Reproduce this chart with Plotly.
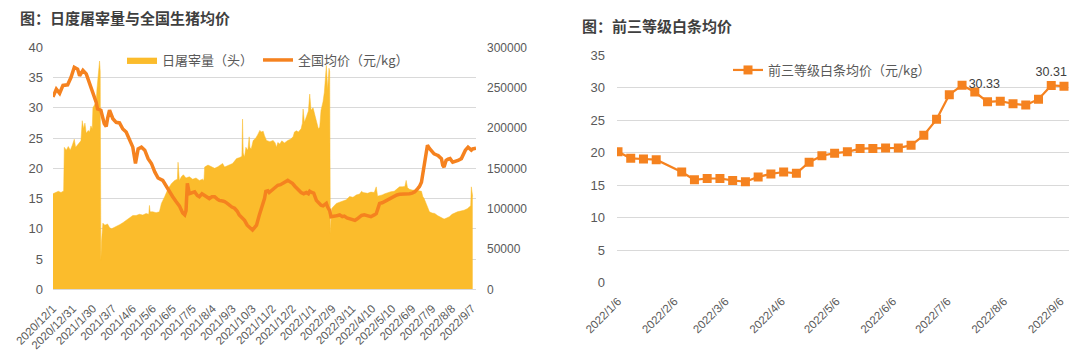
import plotly.graph_objects as go

# ---------------- Left chart data ----------------
# category-axis tick labels (one every 30 trading days)
tick_labels = ["2020/12/1", "2020/12/31", "2021/1/30", "2021/3/7", "2021/4/6", "2021/5/6",
               "2021/6/5", "2021/7/5", "2021/8/4", "2021/9/3", "2021/10/3", "2021/11/2",
               "2021/12/2", "2022/1/1", "2022/2/9", "2022/3/11", "2022/4/10", "2022/5/10",
               "2022/6/9", "2022/7/9", "2022/8/8", "2022/9/7"]
tick_step = 30

# daily slaughter (heads) : trading-day index and value
slaughter_idx = [0, 4, 8, 12, 16, 17, 20, 23, 26, 29, 32, 34, 38, 42, 44, 46, 48, 50, 53, 55, 57, 59,
                 60, 63, 65, 66, 68, 70, 71, 72, 73, 75, 78, 82, 85, 88, 92, 96, 100, 105, 110, 115,
                 120, 125, 130, 135, 140, 144, 145, 146, 150, 155, 160, 163, 166, 168, 173, 178, 183,
                 187, 188, 189, 190, 193, 196, 200, 205, 210, 215, 220, 225, 227, 228, 233, 238, 243,
                 248, 253, 255, 258, 265, 270, 273, 276, 281, 284, 285, 286, 288, 290, 293, 295, 296,
                 298, 301, 305, 308, 311, 313, 316, 318, 321, 326, 331, 334, 336, 338, 341, 344, 348,
                 353, 357, 361, 363, 366, 369, 373, 375, 376, 378, 381, 384, 386, 388, 391, 394, 397,
                 399, 401, 403, 406, 408, 411, 413, 415, 416, 417, 418, 419, 421, 424, 426, 431, 436,
                 441, 446, 451, 456, 461, 464, 466, 473, 478, 483, 486, 488, 491, 495, 499, 503, 508,
                 513, 518, 521, 525, 529, 531, 533, 536, 540, 545, 550, 554, 556, 558, 561, 564, 566,
                 570, 574, 578, 581, 584, 588, 592, 596, 600, 603, 608, 613, 618, 623, 626, 628, 629,
                 630, 631]
slaughter_val = [118500, 120000, 121500, 120000, 122000, 176000, 172500, 177000, 172500, 178500,
                 186000, 176000, 180000, 184000, 209000, 199000, 206000, 193500, 197000, 195000,
                 202500, 199000, 225000, 229000, 232500, 247500, 269000, 283000, 270000, 36000,
                 60000, 82000, 79500, 81000, 76500, 75000, 76500, 78000, 80000, 82500, 85500, 88500,
                 91500, 91500, 93000, 92000, 94000, 93000, 104000, 96000, 96000, 95000, 96000,
                 106500, 111000, 115000, 124500, 131000, 135000, 136500, 157500, 136500, 135000,
                 139500, 142000, 138000, 139500, 136500, 138000, 135000, 136500, 135000, 151500,
                 154000, 152000, 150000, 152000, 154500, 156000, 151500, 154000, 156000, 159000,
                 162000, 163500, 165000, 211000, 169000, 164000, 176000, 172500, 189000, 176000,
                 174000, 184500, 187500, 192000, 197000, 195000, 196000, 190500, 184500, 183000,
                 184500, 181500, 176000, 182000, 180000, 184000, 181500, 184500, 186000, 189000,
                 195000, 196500, 195000, 199000, 206000, 223500, 207000, 214000, 221000, 242000,
                 222000, 225000, 214000, 206000, 199000, 201000, 222000, 232500, 244500, 277500,
                 247500, 274000, 270000, 69000, 90000, 100000, 102000, 105000, 106500, 108000,
                 110000, 111000, 115000, 114000, 117000, 118000, 121500, 120000, 119000, 120500,
                 120000, 127000, 115500, 116000, 117000, 118500, 120000, 121000, 121500, 124500,
                 127000, 127000, 127500, 135000, 126000, 124000, 123000, 123000, 122000, 121500,
                 115000, 112500, 106500, 101000, 96000, 94500, 94000, 91500, 90000, 88500, 87000,
                 88500, 90000, 93000, 94500, 96000, 97000, 98000, 100000, 102000, 103500, 127000,
                 120000, 115000]

# national average live-hog price (yuan/kg)
price_idx = [0, 5, 10, 15, 22, 27, 32, 37, 40, 45, 50, 55, 60, 65, 67, 72, 77, 80, 82, 85, 90, 95,
             100, 105, 110, 115, 120, 124, 128, 133, 138, 143, 148, 153, 158, 165, 170, 175, 180,
             185, 190, 195, 198, 200, 202, 205, 210, 213, 217, 220, 224, 228, 232, 235, 239, 243,
             247, 250, 255, 258, 262, 265, 269, 273, 277, 280, 284, 288, 292, 295, 298, 300, 303,
             306, 310, 315, 318, 320, 323, 325, 328, 331, 335, 338, 342, 346, 350, 353, 356, 360,
             364, 368, 371, 373, 377, 381, 384, 386, 389, 392, 396, 400, 403, 406, 409, 411, 413,
             416, 418, 421, 424, 428, 431, 435, 438, 442, 446, 450, 454, 457, 461, 464, 468, 473,
             478, 483, 486, 489, 491, 495, 498, 502, 506, 510, 513, 517, 521, 525, 529, 533, 536,
             540, 544, 548, 551, 554, 556, 558, 561, 563, 566, 569, 573, 577, 579, 584, 586, 588,
             591, 594, 597, 601, 605, 609, 614, 617, 620, 624, 627, 629, 631, 634, 636]
price_val = [31.8, 33.1, 32.4, 33.7, 33.8, 35.0, 36.7, 36.4, 35.3, 36.2, 35.6, 34.0, 32.6, 30.9,
             29.8, 29.6, 27.4, 26.9, 28.2, 29.6, 28.2, 27.6, 27.5, 26.5, 26.0, 24.6, 23.5, 20.8,
             23.2, 23.5, 23.0, 21.6, 20.8, 19.4, 18.4, 18.0, 17.0, 16.0, 15.3, 14.5, 13.8, 12.6,
             12.3, 13.0, 17.5, 15.8, 16.0, 16.1, 15.5, 15.3, 15.8, 15.5, 15.2, 15.0, 15.3, 15.3,
             14.9, 14.7, 14.6, 14.5, 14.2, 13.9, 13.6, 13.4, 12.9, 12.3, 11.8, 11.4, 10.6, 10.3,
             9.9, 9.8, 10.2, 10.6, 12.2, 13.9, 15.0, 16.2, 16.3, 16.0, 16.3, 16.6, 16.9, 17.2,
             17.3, 17.5, 17.7, 18.0, 17.8, 17.5, 17.0, 16.6, 16.2, 16.0, 15.8, 16.0, 15.8, 16.2,
             16.0, 15.9, 14.7, 14.3, 13.9, 13.8, 14.0, 14.2, 13.6, 13.0, 12.0, 12.0, 12.1, 12.2,
             12.3, 12.0, 12.1, 11.8, 11.7, 11.5, 11.4, 11.6, 12.0, 12.2, 12.3, 12.2, 12.0, 12.3,
             12.5, 13.5, 14.2, 14.3, 14.5, 14.7, 15.0, 15.2, 15.5, 15.6, 15.7, 15.7, 15.7, 15.7,
             15.8, 15.9, 16.1, 16.6, 17.0, 17.7, 19.0, 20.2, 22.1, 23.8, 23.3, 22.9, 22.4, 22.2,
             22.1, 21.6, 20.5, 20.2, 21.3, 21.5, 21.6, 21.0, 21.1, 21.3, 21.6, 22.3, 23.0, 23.5,
             23.2, 23.0, 23.2, 23.2, 23.3]

# ---------------- Right chart data ----------------
carcass_dates = ["2022-01-06", "2022-01-13", "2022-01-20", "2022-01-27", "2022-02-10", "2022-02-17",
                 "2022-02-24", "2022-03-03", "2022-03-10", "2022-03-17", "2022-03-24", "2022-03-31",
                 "2022-04-07", "2022-04-14", "2022-04-21", "2022-04-28", "2022-05-05", "2022-05-12",
                 "2022-05-19", "2022-05-26", "2022-06-02", "2022-06-09", "2022-06-16", "2022-06-23",
                 "2022-06-30", "2022-07-07", "2022-07-14", "2022-07-21", "2022-07-28", "2022-08-04",
                 "2022-08-11", "2022-08-18", "2022-08-25", "2022-09-01", "2022-09-08"]
carcass_val = [20.1, 19.1, 19.0, 18.9, 17.0, 15.8, 16.0, 16.0, 15.7, 15.5, 16.25, 16.7, 17.0, 16.8,
               18.5, 19.5, 19.9, 20.1, 20.6, 20.6, 20.7, 20.7, 21.1, 22.65, 25.1, 28.9, 30.33, 29.3,
               27.8, 27.9, 27.5, 27.3, 28.2, 30.31, 30.2]
carcass_labelled = {"2022-07-14": "middle right", "2022-09-01": "top center"}
right_ticks = ["2022-01-06", "2022-02-06", "2022-03-06", "2022-04-06", "2022-05-06",
               "2022-06-06", "2022-07-06", "2022-08-06", "2022-09-06"]

# ---------------- Styling ----------------
W, H = 1080, 360
FONT = "Liberation Sans, Noto Sans CJK SC, sans-serif"
CJK = "Noto Sans CJK SC, sans-serif"
GRAY = "#595959"
GRID = "#D9D9D9"
AREA = "#FBBC2C"
ORANGE = "#F5821F"

def px_x(p):
    return p / W

def px_y(p):
    return 1 - p / H

fig = go.Figure()

fig.add_trace(go.Scatter(
    x=slaughter_idx, y=slaughter_val, name="日屠宰量（头）",
    mode="lines", fill="tozeroy", fillcolor=AREA,
    line=dict(color=AREA, width=0.5),
    xaxis="x", yaxis="y", legend="legend"))

fig.add_trace(go.Scatter(
    x=price_idx, y=price_val, name="全国均价（元/kg）",
    mode="lines", line=dict(color=ORANGE, width=3.5),
    xaxis="x", yaxis="y2", legend="legend"))

texts = [f"{v:.2f}" if d in carcass_labelled else "" for d, v in zip(carcass_dates, carcass_val)]
tpos = [carcass_labelled.get(d, "top center") for d in carcass_dates]
fig.add_trace(go.Scatter(
    x=carcass_dates, y=carcass_val, name="前三等级白条均价（元/kg）",
    mode="lines+markers+text", text=texts, textposition=tpos,
    textfont=dict(family=FONT, size=12.5, color="#404040"),
    line=dict(color=ORANGE, width=2.2),
    marker=dict(symbol="square", size=9, color=ORANGE),
    xaxis="x2", yaxis="y3", legend="legend2"))

tickfont = dict(family=FONT, size=11.5, color=GRAY)

fig.update_layout(
    template="none",
    width=W, height=H, autosize=False,
    margin=dict(l=0, r=0, t=0, b=0, pad=0),
    paper_bgcolor="white", plot_bgcolor="white",
    font=dict(family=FONT, color=GRAY),
    showlegend=True,
    xaxis=dict(
        domain=[px_x(53), px_x(476)], range=[0, 636], automargin=False,
        tickmode="array",
        tickvals=[i * tick_step for i in range(len(tick_labels))],
        ticktext=tick_labels, tickangle=-45, tickfont=tickfont,
        showgrid=False, zeroline=False, showline=True, linecolor=GRID, linewidth=1,
        ticks="", ticklabelstandoff=7, anchor="y"),
    yaxis=dict(
        domain=[px_y(289.3), px_y(47.3)], range=[0, 300000], side="right", automargin=False,
        tickmode="array", tickvals=[0, 50000, 100000, 150000, 200000, 250000, 300000],
        tickformat="d", ticks="",
        tickfont=dict(family=FONT, size=12, color=GRAY), showgrid=False, zeroline=False,
        showline=False, ticklabelstandoff=10, anchor="x"),
    yaxis2=dict(
        domain=[px_y(289.3), px_y(47.3)], range=[0, 40], side="left", overlaying="y",
        automargin=False, dtick=5, tick0=0, ticks="",
        tickfont=dict(family=FONT, size=13, color=GRAY),
        showgrid=True, gridcolor=GRID, gridwidth=1, zeroline=False, showline=False,
        ticklabelstandoff=9, anchor="x"),
    xaxis2=dict(
        domain=[px_x(617), px_x(1069)], type="date", automargin=False,
        range=["2022-01-05 11:00", "2022-09-10 18:00"],
        tickmode="array", tickvals=right_ticks,
        ticktext=[d[:4] + "/" + str(int(d[5:7])) + "/" + str(int(d[8:10])) for d in right_ticks],
        tickangle=-45, tickfont=tickfont, showgrid=False, zeroline=False, showline=False,
        ticks="", ticklabelstandoff=9, anchor="y3"),
    yaxis3=dict(
        domain=[px_y(282.5), px_y(55)], range=[0, 35], dtick=5, tick0=0, automargin=False,
        ticks="", tickfont=dict(family=FONT, size=13, color=GRAY), showgrid=True,
        gridcolor=GRID, gridwidth=1, zeroline=False, showline=False,
        ticklabelstandoff=11, anchor="x2"),
    legend=dict(
        orientation="h", x=px_x(122), y=px_y(60), xanchor="left", yanchor="middle",
        font=dict(family=CJK, size=13, color=GRAY), bgcolor="rgba(0,0,0,0)",
        itemwidth=30, tracegroupgap=0),
    legend2=dict(
        orientation="h", x=px_x(728), y=px_y(70), xanchor="left", yanchor="middle",
        font=dict(family=CJK, size=13, color=GRAY), bgcolor="rgba(0,0,0,0)",
        itemwidth=30),
    annotations=[
        dict(text="<b>图：日度屠宰量与全国生猪均价</b>", xref="paper", yref="paper",
             x=px_x(18), y=px_y(17), xanchor="left", yanchor="middle", showarrow=False,
             font=dict(family=CJK, size=15, color="#3F3F3F")),
        dict(text="<b>图：前三等级白条均价</b>", xref="paper", yref="paper",
             x=px_x(580), y=px_y(25.5), xanchor="left", yanchor="middle", showarrow=False,
             font=dict(family=CJK, size=15, color="#3F3F3F")),
    ],
)

fig.write_html("out.html", config={"displayModeBar": False},
               post_script="document.body.style.margin='0';document.body.style.overflow='hidden';")
